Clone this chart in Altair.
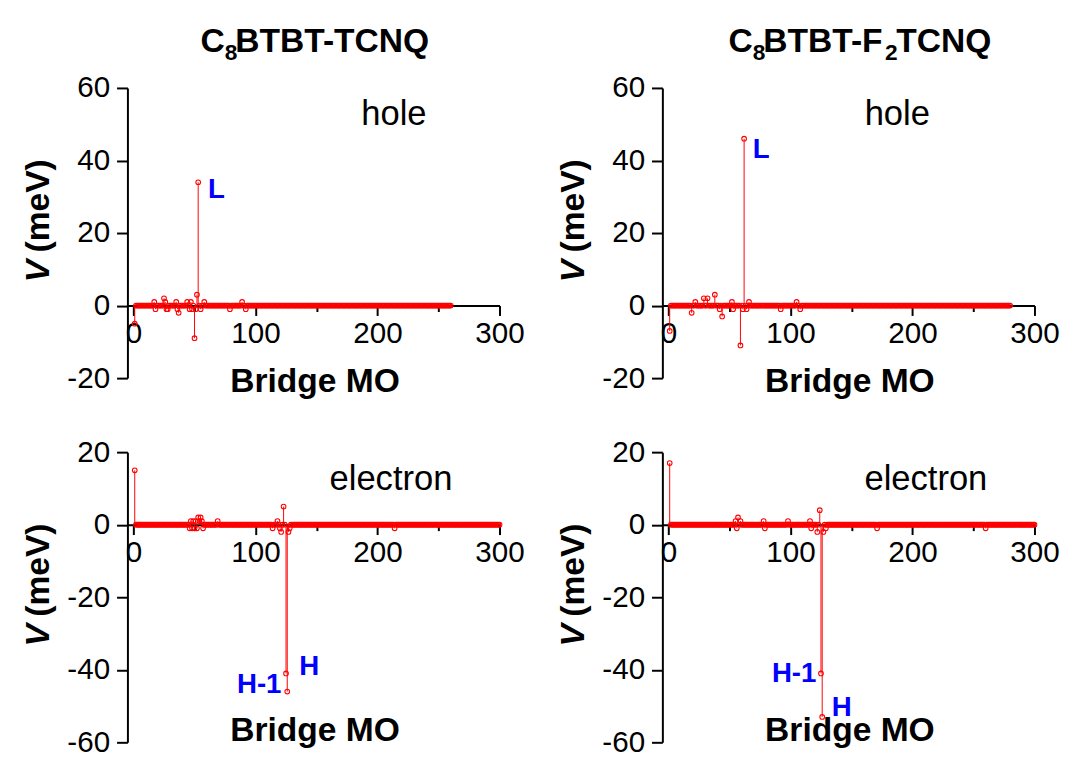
import altair as alt
import pandas as pd

FONT = "Liberation Sans"

# ---------------- data ----------------
# C8BTBT-TCNQ, hole
tcnq_hole_n = 260
tcnq_hole_mo = [1, 17, 18, 25, 26, 27, 28, 35, 36, 37, 44, 46, 47, 48, 50, 51, 52, 53, 55, 58, 79, 89, 92]
tcnq_hole_v = [-5, 1, -1, 2, 1, -1, -1, 1, -1, -2, 1, -1, 1, -1, -9, -1, 3, 34, -1, 1, -1, 1, -1]

# C8BTBT-F2TCNQ, hole
f2_hole_n = 280
f2_hole_mo = [1, 19, 22, 29, 32, 38, 42, 44, 52, 53, 59, 61, 62, 64, 66, 92, 105, 108]
f2_hole_v = [-7, -2, 1, 2, 2, 3, -1, -3, 1, -1, -11, -1, 46, -1, 1, -1, 1, -1]

# C8BTBT-TCNQ, electron
tcnq_elec_n = 300
tcnq_elec_mo = [1, 46, 47, 48, 49, 50, 51, 52, 53, 54, 55, 56, 57, 69,
                114, 118, 120, 121, 123, 125, 126, 127, 128, 214]
tcnq_elec_v = [15, -1, 1, -1, 1, -1, 1, -1, 2, 1, 2, 1, -1, 1,
               -1, 1, -1, -2, 5, -41, -46, -2, -1, -1]

# C8BTBT-F2TCNQ, electron
f2_elec_n = 300
f2_elec_mo = [1, 55, 56, 57, 59, 78, 79, 98, 116, 117, 122, 124, 125, 126, 127, 129, 171, 260]
f2_elec_v = [17, 1, -1, 2, 1, 1, -1, 1, 1, -1, -2, 4, -41, -53, -2, -1, -1, -1]

# peak annotations (label, MO, V)
ann_tcnq_hole = (["L"], [68], [31.7])
ann_f2_hole = (["L"], [76], [43])
ann_tcnq_elec = (["H-1", "H"], [103, 144], [-44.2, -39.3])
ann_f2_elec = (["H-1", "H"], [103, 142], [-41.2, -50.7])

x_ticks = [0, 50, 100, 150, 200, 250, 300]

PW, PH = 377, 294
XDOM = [-5, 300]


def series(n, mos, vs):
    lookup = dict(zip(mos, vs))
    mo = list(range(1, n + 1))
    v = [lookup.get(m, 0) for m in mo]
    return pd.DataFrame({"mo": mo, "v": v, "zero": [0] * n})


def text_layer(txt, x, y, size, weight="normal", style="normal", align="left",
               baseline="alphabetic", angle=0, color="black"):
    return alt.Chart(pd.DataFrame({"t": [txt]})).mark_text(
        font=FONT, fontSize=size, fontWeight=weight, fontStyle=style,
        align=align, baseline=baseline, angle=angle, color=color
    ).encode(x=alt.value(x), y=alt.value(y), text="t:N")


AX = dict(grid=False, title=None, labelFont=FONT, labelFontSize=30, labelColor="black",
          labelFlush=False, labelOverlap=False, domainColor="black", domainWidth=2,
          tickColor="black", tickWidth=2, ticks=True, domain=True)


def panel(df, ydom, kind, kind_x, title_parts, ann, xlabel_y, anchor):
    y0_from_top = PH * ydom[1] / (ydom[1] - ydom[0])
    xoff = -(PH - y0_from_top)
    y_ticks = list(range(ydom[0], ydom[1] + 1, 10))
    xaxis = alt.Axis(
        values=x_ticks, offset=xoff, orient="bottom", labelPadding=3,
        labelExpr="datum.value % 100 == 0 ? datum.value + '' : ''",
        tickSize={"condition": {"test": "datum.value % 100 != 0", "value": 6}, "value": 10},
        **AX)
    yaxis = alt.Axis(
        values=y_ticks, orient="left", labelPadding=7,
        labelExpr="datum.value % 20 == 0 ? datum.value + '' : ''",
        tickSize={"condition": {"test": "datum.value % 20 != 0", "value": 6}, "value": 11},
        **AX)
    xs = alt.Scale(domain=XDOM, nice=False, zero=False)
    ys = alt.Scale(domain=ydom, nice=False, zero=False)
    base = alt.Chart(df)
    stems = base.mark_rule(color="red", strokeWidth=1).encode(
        x=alt.X("mo:Q", scale=xs, axis=xaxis),
        y=alt.Y("v:Q", scale=ys, axis=yaxis),
        y2="zero:Q",
    )
    pts = base.mark_point(shape="circle", filled=False, color="red", size=22,
                          strokeWidth=1.1, opacity=1).encode(x="mo:Q", y="v:Q")
    adf = pd.DataFrame({"t": ann[0], "mo": ann[1], "v": ann[2]})
    anns = alt.Chart(adf).mark_text(font=FONT, fontSize=28, fontWeight="bold",
                                    color="#0000ff", align="center",
                                    baseline="middle").encode(
        x="mo:Q", y="v:Q", text="t:N")
    layers = [stems, pts, anns,
              text_layer(kind, kind_x, 27, 35, align="center", baseline="middle"),
              text_layer("Bridge MO", 190, xlabel_y, 34, weight="bold",
                         align="center", baseline="middle"),
              text_layer("V", -89, 185.5, 34, weight="bold", style="italic",
                         align="center", baseline="middle", angle=270),
              text_layer("(meV)", -89, 119.5, 34, weight="bold",
                         align="center", baseline="middle", angle=270)]
    for (txt, x, y, size) in title_parts:
        layers.append(text_layer(txt, x, y, size, weight="bold"))
    if anchor:
        # invisible layout anchor so the page origin is fixed
        layers.append(alt.Chart(pd.DataFrame({"t": [""]})).mark_point(
            size=1, opacity=0).encode(x=alt.value(-120), y=alt.value(-75)))
    return alt.layer(*layers).properties(width=PW, height=PH)


title_left = [("C", 74, -36.5, 34), ("8", 98.5, -28, 23), ("BTBT-TCNQ", 109.3, -36.5, 34)]
title_right = [("C", 67, -36.5, 34), ("8", 91.5, -28, 23), ("BTBT-F", 102.3, -36.5, 34),
               ("2", 225.5, -28, 23), ("TCNQ", 237, -36.5, 34)]

p1 = panel(series(tcnq_hole_n, tcnq_hole_mo, tcnq_hole_v), [-20, 60], "hole", 270,
           title_left, ann_tcnq_hole, 298, True)
p2 = panel(series(f2_hole_n, f2_hole_mo, f2_hole_v), [-20, 60], "hole", 238,
           title_right, ann_f2_hole, 298, False)
p3 = panel(series(tcnq_elec_n, tcnq_elec_mo, tcnq_elec_v), [-60, 20], "electron", 267,
           [], ann_tcnq_elec, 283, False)
p4 = panel(series(f2_elec_n, f2_elec_mo, f2_elec_v), [-60, 20], "electron", 267,
           [], ann_f2_elec, 283, False)

chart = alt.concat(p1, p2, p3, p4, columns=2,
                   spacing={"row": 75, "column": 165}, bounds="flush").properties(
    padding={"left": 0, "top": 0, "right": 10, "bottom": 5},
).configure(font=FONT).configure_view(
    strokeWidth=0, stroke="transparent"
).configure_axis(
    domainColor="black", domainWidth=2, tickColor="black", tickWidth=2
)

chart.save("out.html", embed_options={"renderer": "svg", "actions": False})
